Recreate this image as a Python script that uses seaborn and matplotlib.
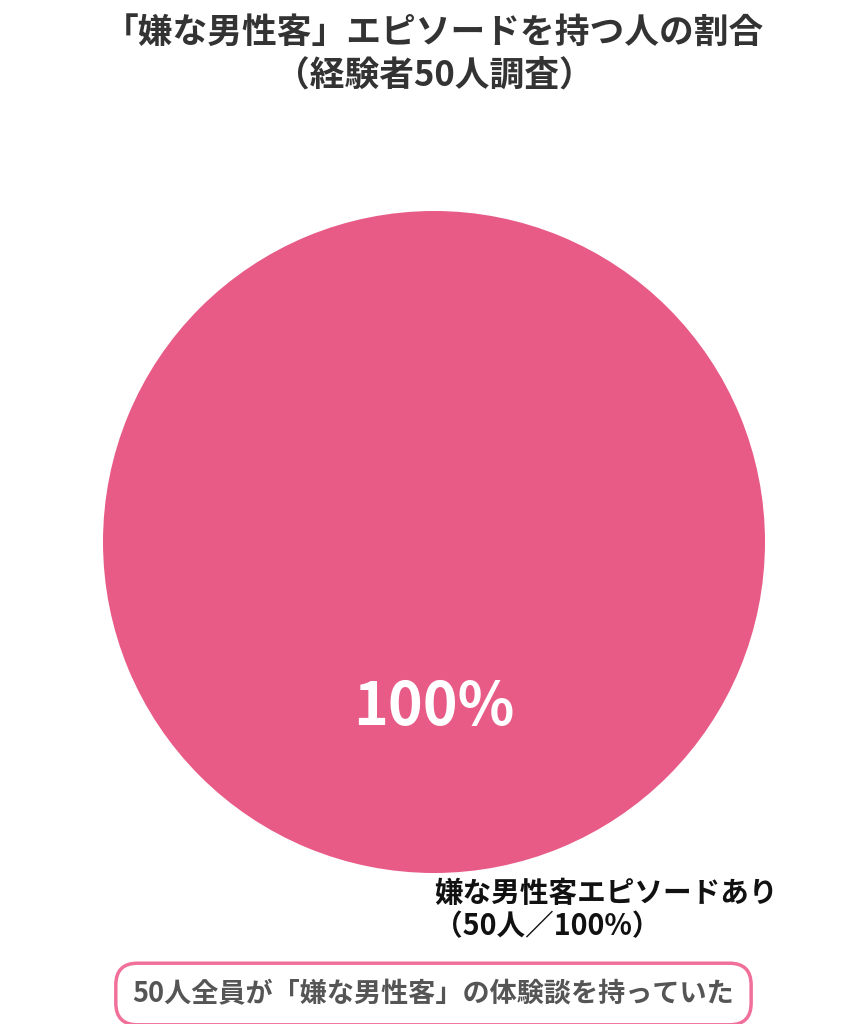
import matplotlib
matplotlib.use('Agg')
import matplotlib.pyplot as plt
import seaborn as sb

# data
categories = ['嫌な男性客エピソードあり']
counts = [50]
shares = [100]
title = '「嫌な男性客」エピソードを持つ人の割合\n（経験者50人調査）'
note = '50人全員が「嫌な男性客」の体験談を持っていた'

sb.set_theme(style='white')
plt.rcParams['font.family'] = ['Noto Sans CJK JP', 'DejaVu Sans']

pink = '#E85B87'

fig = plt.figure(figsize=(8.68, 10.24), dpi=100)
fig.patch.set_facecolor('white')
ax = fig.add_axes([103/868, 151/1024, 662/868, 662/1024])

labels = [f'{c}\n（{n}人／{s}%）' for c, n, s in zip(categories, counts, shares)]
wedges, texts, autotexts = ax.pie(counts, labels=labels, colors=[pink], startangle=90,
                                  autopct='%1.0f%%', pctdistance=0.5, labeldistance=1.11,
                                  wedgeprops={'linewidth': 0})
ax.set_xlim(-1, 1)
ax.set_ylim(-1, 1)

for t in texts:
    t.set_ha('left')
    t.set_va('center')
    t.set_fontsize(20.6)
    t.set_fontweight('bold')
    t.set_color('#111111')
    t.set_linespacing(1.12)
for t in autotexts:
    t.set_fontsize(42.5)
    t.set_fontweight('bold')
    t.set_color('white')

fig.text(0.5, 1 - 54/1024, title, ha='center', va='center', fontsize=25,
         fontweight='bold', color='#333333', linespacing=1.28)

fig.text(0.4994, 1 - 994/1024, note, ha='center', va='center', fontsize=19.5,
         fontweight='bold', color='#555555',
         bbox=dict(boxstyle='round,pad=0.62,rounding_size=0.8', fc='white', ec='#F0709A', lw=2.5))

fig.savefig('out.png', dpi=100)
